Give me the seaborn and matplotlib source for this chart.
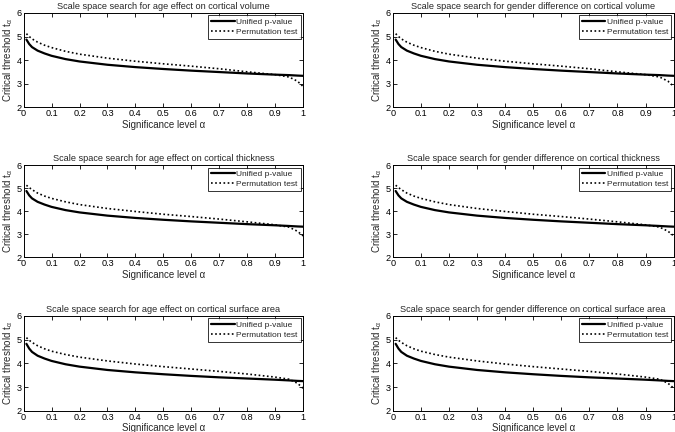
import numpy as np
import pandas as pd
import seaborn as sns
import matplotlib.pyplot as plt

# significance levels (alpha) at which thresholds were read
alpha = [0.01, 0.02, 0.03, 0.05, 0.075, 0.1, 0.15, 0.2, 0.3, 0.4,
         0.5, 0.6, 0.7, 0.8, 0.9, 0.95, 0.98, 1.0]

# critical thresholds
unified_volume = [4.87, 4.68, 4.55, 4.40, 4.28, 4.18, 4.04, 3.94, 3.80, 3.70,
                  3.62, 3.55, 3.49, 3.43, 3.38, 3.36, 3.34, 3.33]
perm_volume = [5.12, 5.00, 4.90, 4.76, 4.63, 4.53, 4.37, 4.25, 4.08, 3.95,
               3.84, 3.74, 3.63, 3.50, 3.38, 3.28, 3.10, 2.88]

unified_thick = [4.87, 4.68, 4.55, 4.40, 4.28, 4.18, 4.04, 3.94, 3.80, 3.70,
                 3.62, 3.55, 3.49, 3.43, 3.38, 3.35, 3.33, 3.32]
perm_thick = [5.12, 5.02, 4.93, 4.78, 4.65, 4.55, 4.40, 4.28, 4.11, 3.98,
              3.86, 3.76, 3.65, 3.53, 3.40, 3.30, 3.12, 2.92]

unified_surf = [4.82, 4.62, 4.48, 4.32, 4.20, 4.10, 3.96, 3.86, 3.72, 3.62,
                3.54, 3.47, 3.41, 3.36, 3.31, 3.28, 3.26, 3.25]
perm_surf = [5.08, 4.97, 4.88, 4.74, 4.61, 4.51, 4.37, 4.26, 4.10, 3.97,
             3.86, 3.76, 3.66, 3.55, 3.42, 3.33, 3.16, 2.95]

titles = [
    ['Scale space search for age effect on cortical volume',
     'Scale space search for gender difference on cortical volume'],
    ['Scale space search for age effect on cortical thickness',
     'Scale space search for gender difference on cortical thickness'],
    ['Scale space search for age effect on cortical surface area',
     'Scale space search for gender difference on cortical surface area'],
]
rows_data = [(unified_volume, perm_volume),
             (unified_thick, perm_thick),
             (unified_surf, perm_surf)]
methods = ['Unified p-value', 'Permutation test']
xtick_labels = ['0', '0.1', '0.2', '0.3', '0.4', '0.5', '0.6', '0.7', '0.8', '0.9', '1']

sns.set_style('white')
plt.rcParams['font.family'] = ['Liberation Sans', 'DejaVu Sans']
plt.rcParams['mathtext.fontset'] = 'custom'
plt.rcParams['mathtext.rm'] = 'Liberation Sans'

fig = plt.figure(figsize=(6.75, 4.32), dpi=100)

# axes boxes in figure fractions
col_left = [0.035, 0.582]
col_w = [0.414, 0.416]
row_bottom = [0.752, 0.405, 0.049]
row_h = [0.218, 0.213, 0.220]

fs = 6.6

for r in range(3):
    uni, perm = rows_data[r]
    df = pd.DataFrame({
        'alpha': alpha * 2,
        'threshold': uni + perm,
        'method': [methods[0]] * len(alpha) + [methods[1]] * len(alpha),
    })
    for c in range(2):
        ax = fig.add_axes([col_left[c], row_bottom[r], col_w[c], row_h[r]])
        sns.lineplot(data=df, x='alpha', y='threshold', hue='method', style='method',
                     palette=['black', 'black'], dashes=[(None, None), (1, 1.5)],
                     ax=ax, legend=False)
        ax.lines[0].set_linewidth(1.6)
        ax.lines[0].set_linestyle('-')
        ax.lines[1].set_linewidth(1.2)
        ax.set_xlim(0, 1)
        ax.set_ylim(2, 6)
        ax.set_xticks(np.arange(0, 1.01, 0.1))
        ax.set_xticklabels(xtick_labels)
        ax.set_yticks([2, 3, 4, 5, 6])
        ax.tick_params(direction='in', length=3, width=0.6, labelsize=fs, pad=1.5,
                       top=True, right=True, bottom=True, left=True, colors='black')
        for s in ax.spines.values():
            s.set_color('black')
            s.set_linewidth(0.7)
        ax.set_title(titles[r][c], fontsize=fs, pad=3)
        ax.set_xlabel('Significance level α', fontsize=7.0, labelpad=1)
        ax.set_ylabel(r'Critical threshold t$_\mathregular{α}$', fontsize=7.0, labelpad=1)
        leg = ax.legend(handles=ax.lines[:2], labels=methods, loc='upper right',
                        fontsize=6, frameon=True, fancybox=False, borderpad=0.35,
                        handlelength=2.8, handletextpad=0.2, labelspacing=0.25,
                        borderaxespad=0.3)
        leg.get_frame().set_edgecolor('black')
        leg.get_frame().set_linewidth(0.7)

fig.savefig('out.png', dpi=100)
